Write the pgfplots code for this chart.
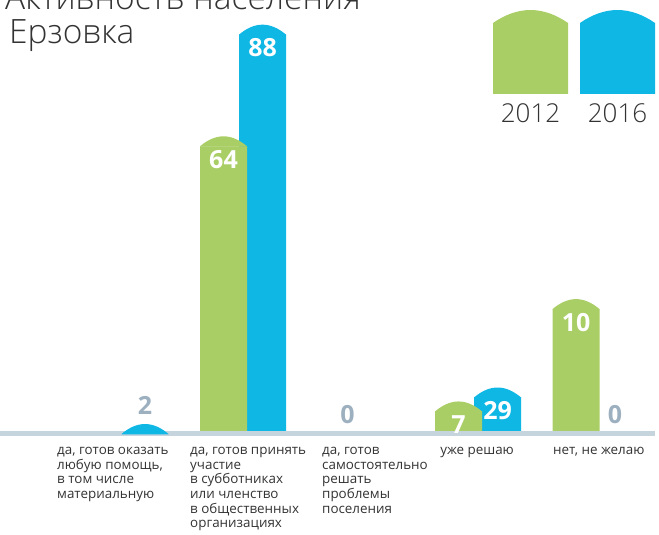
\documentclass[border=0pt]{standalone}
\usepackage{pgfplots}
\pgfplotsset{compat=1.18}
\usepackage{pgfplotstable}
\usepackage{fontspec}
\setmainfont{Open Sans}
\IfFontExistsTF{Open Sans Light}{\newfontfamily\lightfont{Open Sans Light}}{\newfontfamily\lightfont{Open Sans}}
\definecolor{gr}{HTML}{AACE66}
\definecolor{bl}{HTML}{0EB7E4}
\definecolor{basec}{HTML}{C5D4DD}
\definecolor{grayl}{HTML}{9DB0BF}
\definecolor{txt}{HTML}{333333}

\pgfdeclareplotmark{dome}{%
  \pgfpathmoveto{\pgfpoint{-23.5pt}{-0.4pt}}%
  \pgfpathlineto{\pgfpoint{-23.5pt}{0pt}}%
  \pgfpathcurveto{\pgfpoint{-7.8pt}{13.3pt}}{\pgfpoint{7.8pt}{13.3pt}}{\pgfpoint{23.5pt}{0pt}}%
  \pgfpathlineto{\pgfpoint{23.5pt}{-0.4pt}}%
  \pgfpathclose
  \pgfusepathqfill}

% x: category index; g/b: bar heights as drawn (2012 / 2016); gl/bl: printed labels
\pgfplotstableread{
x g gl b bl
0 0 {} 2 2
1 64 64 88 88
2 0 0 0 {}
3 7 7 10 29
4 29 10 0 0
}\data

\begin{document}
\begin{tikzpicture}
\begin{axis}[
  width=659pt, height=534pt, scale only axis,
  xmin=-1.068, xmax=4.540, ymin=-21.5, ymax=93.3,
  axis x line=middle, axis y line=none,
  axis line style={draw=none},
  major tick length=0pt,
  ytick=\empty,
  xtick={-0.583,0.549,1.672,2.677,3.638},
  xticklabels={
    {да, готов оказать\\любую помощь,\\в том числе\\материальную},
    {да, готов принять\\участие\\в субботниках\\или членство\\в общественных\\организациях},
    {да, готов\\самостоятельно\\решать\\проблемы\\поселения},
    {уже решаю},
    {нет, не желаю}},
  xticklabel style={anchor=north west, align=left, inner sep=0pt, text=txt,
    font=\fontsize{13.4}{14.7}\selectfont, yshift=-13pt},
  clip=false,
]
% 2016 bars (behind)
\addplot[ybar, bar width=47pt, bar shift=0pt, fill=bl, draw=none,
  restrict y to domain=-0.5:200]
  table[x expr=\thisrow{x}+0.166, y expr={\thisrow{b}>0 ? max(\thisrow{b}-2.15,0) : -1}] {\data};
\addplot[only marks, mark=dome, mark options={fill=bl, draw=none},
  restrict y to domain=-0.5:200]
  table[x expr=\thisrow{x}+0.166, y expr={\thisrow{b}>0 ? max(\thisrow{b}-2.15,0) : -1}] {\data};
% 2012 bars (front)
\addplot[ybar, bar width=47pt, bar shift=0pt, fill=gr, draw=none,
  restrict y to domain=-0.5:200]
  table[x expr=\thisrow{x}-0.166, y expr={\thisrow{g}>0 ? max(\thisrow{g}-2.15,0) : -1}] {\data};
\addplot[only marks, mark=dome, mark options={fill=gr, draw=none},
  restrict y to domain=-0.5:200]
  table[x expr=\thisrow{x}-0.166, y expr={\thisrow{g}>0 ? max(\thisrow{g}-2.15,0) : -1}] {\data};
% white labels inside bars
\addplot[draw=none, mark=none, nodes near coords, point meta=explicit symbolic,
  nodes near coords style={anchor=center, yshift=-13pt, text=white, font=\bfseries\fontsize{25}{28}\selectfont},
  restrict y to domain=2:200]
  table[x expr=\thisrow{x}+0.166, y expr=\thisrow{b}-2.15, meta=bl] {\data};
\addplot[draw=none, mark=none, nodes near coords, point meta=explicit symbolic,
  nodes near coords style={anchor=center, yshift=-13pt, text=white, font=\bfseries\fontsize{25}{28}\selectfont},
  restrict y to domain=2:200]
  table[x expr=\thisrow{x}-0.166, y expr=\thisrow{g}-2.15, meta=gl] {\data};
% gray labels above small values
\addplot[draw=none, mark=none, nodes near coords, point meta=explicit symbolic,
  nodes near coords style={anchor=south, inner sep=0pt, yshift=10pt, text=grayl, font=\bfseries\fontsize{25}{28}\selectfont},
  restrict y to domain=-0.5:2.5]
  table[x expr=\thisrow{x}+0.166, y=b, meta=bl] {\data};
\addplot[draw=none, mark=none, nodes near coords, point meta=explicit symbolic,
  nodes near coords style={anchor=south, inner sep=0pt, yshift=10pt, text=grayl, font=\bfseries\fontsize{25}{28}\selectfont},
  restrict y to domain=-0.5:2.5]
  table[x expr=\thisrow{x}-0.110, y=g, meta=gl] {\data};
% baseline
\addplot[basec, line width=5pt, mark=none] coordinates {(-1.068,0) (4.506,0)};
\end{axis}
\pgfresetboundingbox
\path[use as bounding box] (current axis.south west) rectangle (current axis.north east);
\begin{scope}[shift={(current axis.north west)}, x=1pt, y=-1pt]
  \node[anchor=base west, inner sep=0pt, text=txt, font=\lightfont\fontsize{33.5}{38}\selectfont] at (5,10) {Активность населения};
  \node[anchor=base west, inner sep=0pt, text=txt, font=\lightfont\fontsize{33.5}{38}\selectfont] at (9,44) {Ерзовка};
  \fill[gr] (493,94) -- (493,23) .. controls (518,5.7) and (543,5.7) .. (568,23) -- (568,94) -- cycle;
  \fill[bl] (580,94) -- (580,23) .. controls (605,5.7) and (630,5.7) .. (655,23) -- (655,94) -- cycle;
  \node[anchor=base, inner sep=0pt, text=txt, font=\lightfont\fontsize{26}{30}\selectfont] at (530.5,123) {2012};
  \node[anchor=base, inner sep=0pt, text=txt, font=\lightfont\fontsize{26}{30}\selectfont] at (617.5,123) {2016};
\end{scope}
\end{tikzpicture}
\end{document}
